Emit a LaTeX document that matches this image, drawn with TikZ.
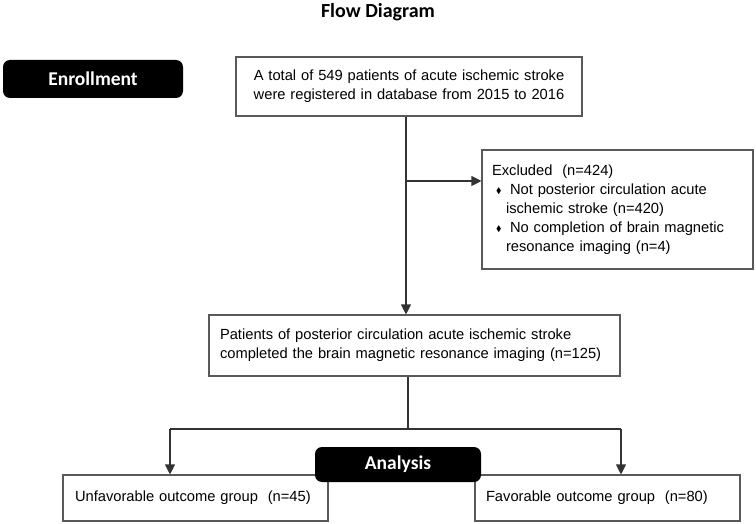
\documentclass[tikz,border=0pt]{standalone}
\usepackage{amssymb}
\usepackage{fontspec}
\setmainfont{Liberation Sans}
\newfontfamily\headfont{Carlito}
\usetikzlibrary{arrows.meta,positioning,calc}
\newcommand{\dmd}{\makebox[18pt][l]{\hspace*{4pt}\raisebox{1pt}{\scalebox{0.55}{$\blacklozenge$}}}}
\tikzset{
  tbox/.style={draw=black!65, line width=1.1pt, align=left,
               font=\fontsize{14.7}{19}\selectfont, inner ysep=0pt},
  hbox/.style={fill=black, rounded corners=7pt, text=white, inner sep=0pt,
               font=\headfont\bfseries\fontsize{19.5}{22}\selectfont},
  flow/.style={-{Triangle[length=10pt,width=10pt]}, draw=black!80, line width=1.1pt},
  link/.style={draw=black!80, line width=1.1pt},
}
\begin{document}
\begin{tikzpicture}[x=1pt,y=-1pt]
  \useasboundingbox (0,0) rectangle (756,524);
  \node[font=\headfont\bfseries\fontsize{20}{24}\selectfont] (title) at (378,12) {Flow Diagram};
  \node[hbox, minimum width=180pt, minimum height=38pt] (enroll) at (93,79) {Enrollment};
  \node[tbox, align=center, text width=346pt, inner xsep=0pt, minimum height=59pt] (total) at (409,86.5)
    {A total of 549 patients of acute ischemic stroke\\ were registered in database from 2015 to 2016};
  \node[tbox, text width=251pt, inner xsep=10pt, minimum height=119pt] (excl) at (617.5,209.5)
    {Excluded\ \ (n=424)\\
     \dmd Not posterior circulation acute\\
     \hspace*{14pt}ischemic stroke (n=420)\\
     \dmd No completion of brain magnetic\\
     \hspace*{14pt}resonance imaging (n=4)};
  \node[tbox, text width=389pt, inner xsep=11pt, minimum height=61pt] (main) at (414.5,345.5)
    {Patients of posterior circulation acute ischemic stroke\\ completed the brain magnetic resonance imaging (n=125)};
  \node[tbox, text width=241pt, inner xsep=12pt, minimum height=46pt] (unfav) at (195.5,498)
    {Unfavorable outcome group\ \ (n=45)};
  \node[tbox, text width=243pt, inner xsep=11pt, minimum height=46pt] (fav) at (607.5,498)
    {Favorable outcome group\ \ (n=80)};
  % connectors
  \coordinate (split) at (406,181);
  \coordinate (fork) at (408,429);
  \coordinate (forkL) at (170,429);
  \coordinate (forkR) at (621,429);
  \draw[link] (total.south -| split) -- (split);
  \draw[flow] (split) -- (excl.west |- split);
  \draw[flow] (split) -- (main.north -| split);
  \draw[link] (main.south -| fork) -- (fork);
  \draw[link] (forkL) -- (forkR);
  \draw[flow] (forkL) -- (unfav.north -| forkL);
  \draw[flow] (forkR) -- (fav.north -| forkR);
  \node[hbox, minimum width=166pt, minimum height=35pt] (analysis) at (398,464.5) {Analysis};
\end{tikzpicture}
\end{document}
